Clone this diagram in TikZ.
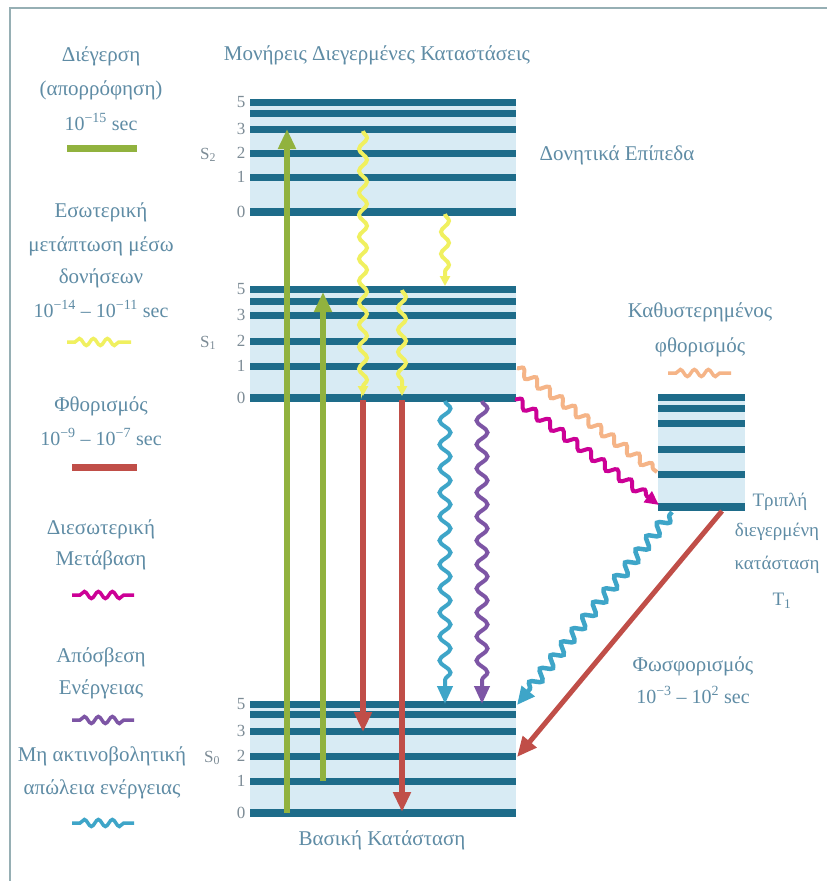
\documentclass[tikz,border=0pt]{standalone}
\usepackage{fontspec}
\setmainfont{Liberation Serif}
\usetikzlibrary{arrows.meta,decorations.pathmorphing}
\definecolor{barc}{RGB}{30,108,138}
\definecolor{fillb}{RGB}{216,235,244}
\definecolor{txtc}{RGB}{95,140,165}
\definecolor{numc}{RGB}{125,140,150}
\definecolor{framec}{RGB}{150,175,180}
\definecolor{grc}{RGB}{145,178,62}
\definecolor{yec}{RGB}{240,240,95}
\definecolor{rdc}{RGB}{192,78,72}
\definecolor{mgc}{RGB}{204,0,150}
\definecolor{puc}{RGB}{125,85,165}
\definecolor{tlc}{RGB}{62,165,200}
\definecolor{orc}{RGB}{245,180,135}
\tikzset{
  lvl/.style={draw=barc, line width=7pt},
  lvlz/.style={draw=barc, line width=8pt},
  txt/.style={text=txtc, font=\fontsize{21}{23}\selectfont, inner sep=0pt, anchor=center},
  txtn/.style={text=txtc, font=\fontsize{20}{22}\selectfont, inner sep=0pt, anchor=center},
  txts/.style={text=txtc, font=\fontsize{19}{21}\selectfont, inner sep=0pt, anchor=center},
  num/.style={text=numc, font=\fontsize{17}{19}\selectfont, inner sep=0pt},
  straightarr/.style={line width=6pt, -{Triangle[length=20pt,width=17pt]}},
  wavy/.style={line width=4pt, decorate, decoration={snake, amplitude=5.5pt, segment length=24pt, post length=14pt}, -{Triangle[length=18pt,width=15pt]}},
  ywavy/.style={line width=4pt, draw=yec, decorate, decoration={snake, amplitude=4pt, segment length=22pt, post length=8pt}, -{Triangle[length=10pt,width=10pt]}},
  lgwavy/.style={line width=3.5pt, decorate, decoration={snake, amplitude=3.5pt, segment length=14pt, pre length=8pt, post length=8pt}}
}
\begin{document}
\begin{tikzpicture}[x=1pt,y=-1pt]
\useasboundingbox (0,0) rectangle (827,881);
\fill[white] (0,0) rectangle (827,881);
\draw[framec, line width=2pt] (10,881) -- (10,8) -- (827,8);

% ---- legend ----
\node[txt] (l1) at (101,56) {Διέγερση};
\node[txt] (l2) at (101,90) {(απορρόφηση)};
\node[txtn] (l3) at (101,122) {10\textsuperscript{−15} sec};
\draw[grc, line width=7pt] (67,148) -- (137,148);
\node[txt] (l4) at (101,212) {Εσωτερική};
\node[txt] (l5) at (101,246) {μετάπτωση μέσω};
\node[txt] (l6) at (101,278) {δονήσεων};
\node[txtn] (l7) at (101,309) {10\textsuperscript{−14} – 10\textsuperscript{−11} sec};
\draw[yec, lgwavy] (67,342) -- (131,342);
\node[txt] (l8) at (101,406) {Φθορισμός};
\node[txtn] (l9) at (101,437) {10\textsuperscript{−9} – 10\textsuperscript{−7} sec};
\draw[rdc, line width=7pt] (72,467) -- (137,467);
\node[txt] (l10) at (101,529) {Διεσωτερική};
\node[txt] (l11) at (101,560) {Μετάβαση};
\draw[mgc, lgwavy] (72,595) -- (134,595);
\node[txt] (l12) at (101,657) {Απόσβεση};
\node[txt] (l13) at (101,689) {Ενέργειας};
\draw[puc, lgwavy] (72,720) -- (134,720);
\node[txt] (l14) at (102,756) {Μη ακτινοβολητική};
\node[txt] (l15) at (102,789) {απώλεια ενέργειας};
\draw[tlc, lgwavy] (72,823) -- (134,823);

% ---- headings ----
\node[txt] (title) at (377,55) {Μονήρεις Διεγερμένες Καταστάσεις};
\node[txt] (vib) at (617,155) {Δονητικά Επίπεδα};
\node[txt] (ground) at (382,840) {Βασική Κατάσταση};
\node[txt] (dl1) at (700,312) {Καθυστερημένος};
\node[txt] (dl2) at (700,347) {φθορισμός};
\draw[orc, lgwavy] (668,373) -- (731,373);
\node[txts] (t1a) at (780,502) {Τριπλή};
\node[txts] (t1b) at (777,532) {διεγερμένη};
\node[txts] (t1c) at (777,565) {κατάσταση};
\node[txts] (t1d) at (782,601) {T\textsubscript{1}};
\node[txt] (ph1) at (693,666) {Φωσφορισμός};
\node[txtn] (ph2) at (693,695) {10\textsuperscript{−3} – 10\textsuperscript{2} sec};

% ---- S2 ----
\fill[fillb] (250,99) rectangle (516,215);
\foreach \y in {102,113,129,153,177} \draw[lvl] (250,\y) -- (516,\y);
\draw[lvlz] (250,212) -- (516,212);
\foreach \n/\y in {5/102,3/129,2/153,1/177,0/212} \node[num] (sa\n) at (241,\y) {\n};
\node[num] (S2) at (208,155) {S\textsubscript{2}};

% ---- S1 ----
\fill[fillb] (250,286) rectangle (516,401);
\foreach \y in {289,301,315,341,366} \draw[lvl] (250,\y) -- (516,\y);
\draw[lvlz] (250,398) -- (516,398);
\foreach \n/\y in {5/289,3/315,2/341,1/366,0/398} \node[num] (sb\n) at (241,\y) {\n};
\node[num] (S1) at (208,343) {S\textsubscript{1}};

% ---- S0 ----
\fill[fillb] (250,701) rectangle (516,817);
\foreach \y in {704,714,731,756,781} \draw[lvl] (250,\y) -- (516,\y);
\draw[lvlz] (250,813) -- (516,813);
\foreach \n/\y in {5/704,3/731,2/756,1/781,0/813} \node[num] (sc\n) at (241,\y) {\n};
\node[num] (S0) at (212,758) {S\textsubscript{0}};

% ---- T1 ----
\fill[fillb] (658,394) rectangle (745,511);
\foreach \y in {397,408,423,449,474} \draw[lvl] (658,\y) -- (745,\y);
\draw[lvlz] (658,507) -- (745,507);

% ---- coordinates ----
\coordinate (g1a) at (287,813); \coordinate (g1b) at (287,129);
\coordinate (g2a) at (323,781); \coordinate (g2b) at (323,292);
\coordinate (y1a) at (363,131); \coordinate (y1b) at (363,396);
\coordinate (y2a) at (402,290); \coordinate (y2b) at (402,396);
\coordinate (y3a) at (445,214); \coordinate (y3b) at (445,286);
\coordinate (r1a) at (363,400); \coordinate (r1b) at (363,732);
\coordinate (r2a) at (402,400); \coordinate (r2b) at (402,812);
\coordinate (c1a) at (445,401); \coordinate (c1b) at (445,704);
\coordinate (p1a) at (482,401); \coordinate (p1b) at (482,704);
\coordinate (oa) at (517,368); \coordinate (ob) at (657,472);
\coordinate (ma) at (515,399); \coordinate (mb) at (659,505);
\coordinate (ta) at (672,512); \coordinate (tb) at (517,705);
\coordinate (ra) at (722,511); \coordinate (rb) at (517,757);

% ---- transitions ----
\draw[grc, straightarr] (g1a) -- (g1b);
\draw[grc, straightarr] (g2a) -- (g2b);
\draw[ywavy] (y1a) -- (y1b);
\draw[ywavy] (y2a) -- (y2b);
\draw[ywavy] (y3a) -- (y3b);
\draw[rdc, straightarr] (r1a) -- (r1b);
\draw[rdc, straightarr] (r2a) -- (r2b);
\draw[tlc, wavy] (c1a) -- (c1b);
\draw[puc, wavy] (p1a) -- (p1b);
\draw[orc, line width=4pt, decorate, decoration={snake, amplitude=4pt, segment length=16pt}] (oa) -- (ob);
\draw[mgc, line width=4pt, decorate, decoration={snake, amplitude=4pt, segment length=17pt, post length=10pt}, -{Triangle[length=14pt,width=13pt]}] (ma) -- (mb);
\draw[tlc, line width=4.5pt, decorate, decoration={snake, amplitude=5pt, segment length=17pt, pre length=4pt, post length=14pt}, -{Triangle[length=18pt,width=16pt]}] (ta) -- (tb);
\draw[rdc, line width=5pt, -{Triangle[length=20pt,width=17pt]}] (ra) -- (rb);
\end{tikzpicture}
\end{document}
